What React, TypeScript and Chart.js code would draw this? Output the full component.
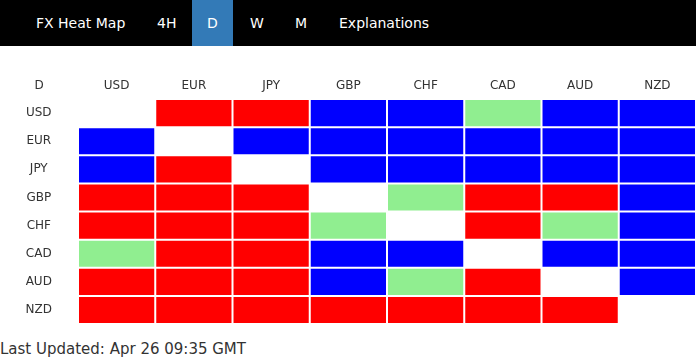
import React, { useEffect, useRef } from "react";
import { Chart, registerables } from "chart.js";

Chart.register(...registerables);

// ---- data ----
const PERIOD = "D";
const TABS = ["FX Heat Map", "4H", "D", "W", "M", "Explanations"];
const CURRENCIES = ["USD", "EUR", "JPY", "GBP", "CHF", "CAD", "AUD", "NZD"];
// 1 = strong (blue), -1 = weak (red), 0 = neutral (green), null = same currency
const USD_ROW = [null, -1, -1, 1, 1, 0, 1, 1];
const EUR_ROW = [1, null, 1, 1, 1, 1, 1, 1];
const JPY_ROW = [1, -1, null, 1, 1, 1, 1, 1];
const GBP_ROW = [-1, -1, -1, null, 0, -1, -1, 1];
const CHF_ROW = [-1, -1, -1, 0, null, -1, 0, 1];
const CAD_ROW = [0, -1, -1, 1, 1, null, 1, 1];
const AUD_ROW = [-1, -1, -1, 1, 0, -1, null, 1];
const NZD_ROW = [-1, -1, -1, -1, -1, -1, -1, null];
const ROWS = [USD_ROW, EUR_ROW, JPY_ROW, GBP_ROW, CHF_ROW, CAD_ROW, AUD_ROW, NZD_ROW];
const LAST_UPDATED = "Last Updated: Apr 26 09:35 GMT";

const FONT = "'DejaVu Sans', Verdana, sans-serif";
const colorOf = (v: number | null) =>
  v === null ? "rgba(0,0,0,0)" : v > 0 ? "#0000ff" : v < 0 ? "#ff0000" : "#90ee90";

// tab text left positions (layout only)
const TAB_LEFT = [36, 157, 192, 250, 295, 339];

export default function App() {
  const canvasRef = useRef<HTMLCanvasElement | null>(null);

  useEffect(() => {
    document.body.style.margin = "0";
    const canvas = canvasRef.current;
    if (!canvas) return;

    const datasets = CURRENCIES.map((cur, j) => ({
      label: cur,
      data: ROWS.map((row) => (row[j] === null ? null : [j, j + 1])),
      backgroundColor: ROWS.map((row) => colorOf(row[j])),
      borderColor: "#ffffff",
      borderWidth: 1,
      borderSkipped: false,
      inflateAmount: 0,
      grouped: false,
      barPercentage: 1,
      categoryPercentage: 1,
      xAxisID: "x",
    }));

    const cornerPlugin = {
      id: "corner",
      afterDraw(chart: any) {
        const ctx = chart.ctx;
        const y = chart.scales.y;
        const xt = chart.scales.xTop;
        ctx.save();
        ctx.font = `12px ${FONT}`;
        ctx.fillStyle = "#333333";
        ctx.textAlign = "center";
        ctx.textBaseline = "middle";
        const lh = 12 * 1.2;
        ctx.fillText(PERIOD, y.left + y.width / 2, xt.bottom - 6 - lh / 2);
        ctx.restore();
      },
    };

    const chart = new Chart(canvas, {
      type: "bar",
      data: { labels: CURRENCIES, datasets: datasets as any },
      options: {
        indexAxis: "y",
        animation: false,
        responsive: false,
        devicePixelRatio: 1,
        layout: { padding: { top: 0, right: 0, bottom: 6, left: 0 } },
        plugins: { legend: { display: false }, tooltip: { enabled: false } },
        scales: {
          x: {
            type: "linear",
            min: 0,
            max: CURRENCIES.length,
            display: false,
          },
          xTop: {
            type: "category",
            labels: CURRENCIES,
            position: "top",
            offset: true,
            grid: { display: false, drawTicks: false },
            border: { display: false },
            ticks: {
              padding: 6,
              color: "#333333",
              font: { size: 12, family: FONT },
              maxRotation: 0,
              autoSkip: false,
            },
            afterFit: (s: any) => {
              s.height = 53;
              s.paddingLeft = 0;
              s.paddingRight = 0;
            },
          },
          y: {
            type: "category",
            offset: true,
            grid: { display: false, drawTicks: false },
            border: { display: false },
            ticks: {
              crossAlign: "center",
              padding: 26,
              color: "#333333",
              font: { size: 12, family: FONT },
              autoSkip: false,
            },
            afterFit: (s: any) => {
              s.width = 78;
              s.paddingTop = 0;
              s.paddingBottom = 0;
            },
          },
        } as any,
      },
      plugins: [cornerPlugin],
    });
    return () => chart.destroy();
  }, []);

  return (
    <div style={{ position: "absolute", left: 0, top: 0, width: 696, height: 360, background: "#fff", fontFamily: FONT }}>
      <div style={{ position: "absolute", left: 0, top: 0, width: 696, height: 46, background: "#000" }}>
        {TABS.map((t, i) =>
          t === PERIOD ? (
            <div
              key={t}
              style={{
                position: "absolute",
                left: 192,
                top: 0,
                width: 41,
                height: 46,
                background: "#337ab7",
                color: "#fff",
                fontSize: 14,
                lineHeight: "47px",
                textAlign: "center",
              }}
            >
              {t}
            </div>
          ) : (
            <div
              key={t}
              style={{
                position: "absolute",
                left: TAB_LEFT[i],
                top: 0,
                height: 46,
                color: "#fff",
                fontSize: 14,
                lineHeight: "47px",
                whiteSpace: "nowrap",
              }}
            >
              {t}
            </div>
          )
        )}
      </div>
      <div style={{ position: "absolute", left: 0, top: 46, width: 696, height: 284 }}>
        <canvas ref={canvasRef} width={696} height={284} style={{ display: "block", width: 696, height: 284 }} />
      </div>
      <div
        style={{
          position: "absolute",
          left: 0,
          top: 340,
          fontSize: 15,
          color: "#333",
          whiteSpace: "nowrap",
        }}
      >
        {LAST_UPDATED}
      </div>
    </div>
  );
}
